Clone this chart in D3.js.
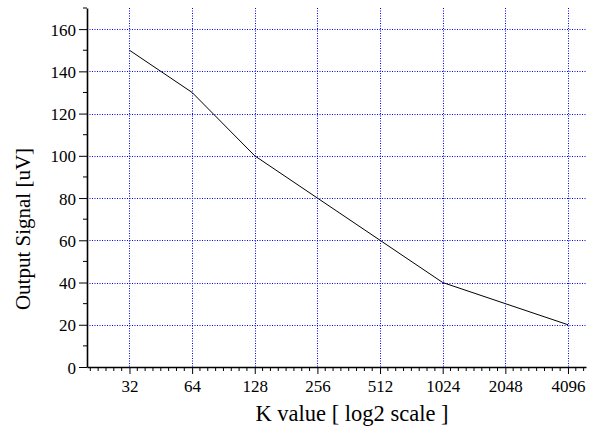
<!DOCTYPE html>
<html>
<head>
<meta charset="utf-8">
<script src="https://cdn.jsdelivr.net/npm/d3@7"></script>
<style>
  body { margin: 0; background: #fff; }
  text { font-family: "Liberation Serif", "Times New Roman", serif; fill: #000; }
  .grid line { stroke: #0000ff; stroke-width: 1; stroke-dasharray: 1,1.5; }
</style>
</head>
<body>
<script>
var kValues = [32, 64, 128, 256, 512, 1024, 2048, 4096];
var signal = [150, 130, 100, 80, 60, 40, 30, 20];
var xTicks = [32, 64, 128, 256, 512, 1024, 2048, 4096];
var yTicks = [0, 20, 40, 60, 80, 100, 120, 140, 160];

var WIDTH = 594;
var HEIGHT = 429;
var LEFT = 87, RIGHT = 586, TOP = 8, BOTTOM = 367;

var svg = d3.select("body")
            .append("svg")
            .attr("width", WIDTH)
            .attr("height", HEIGHT);

var x = d3.scaleLog().base(2).domain([20, 5000]).range([LEFT, RIGHT]);
var y = d3.scaleLinear().domain([0, 170]).range([BOTTOM, TOP]);

// minor ticks: 8 steps per octave on x, one between majors on y
var xMinor = [];
for (var e = 4; e <= 12; e++) {
    for (var k = 1; k < 8; k++) {
        var v = Math.pow(2, e + k / 8);
        if (v >= 20 && v <= 5000) xMinor.push(v);
    }
}
var yMinor = yTicks.map(t => t + 10);

// grid
var grid = svg.append("g").classed("grid", true);
grid.selectAll("line.v")
    .data(xTicks)
    .enter()
    .append("line")
    .classed("v", true)
    .attr("x1", d => Math.round(x(d)) + 0.5)
    .attr("x2", d => Math.round(x(d)) + 0.5)
    .attr("y1", TOP)
    .attr("y2", BOTTOM);
grid.selectAll("line.h")
    .data(yTicks.filter(d => d > 0))
    .enter()
    .append("line")
    .classed("h", true)
    .attr("x1", LEFT)
    .attr("x2", RIGHT)
    .attr("y1", d => Math.round(y(d)) + 0.5)
    .attr("y2", d => Math.round(y(d)) + 0.5);

// data line
var line = d3.line()
             .x((d, i) => x(kValues[i]))
             .y(d => y(d));
svg.append("path")
   .datum(signal)
   .attr("d", line)
   .attr("fill", "none")
   .attr("stroke", "#000")
   .attr("stroke-width", 1);

// x axis (labels drawn by hand so the serif font sticks)
var xAxis = svg.append("g")
               .attr("transform", "translate(0," + BOTTOM + ")")
               .call(d3.axisBottom(x).tickValues(xTicks).tickFormat(() => "")
                       .tickSizeInner(7).tickSizeOuter(0));
xAxis.selectAll(".tick text").remove();
xAxis.selectAll(".tick")
     .append("text")
     .attr("class", "lbl")
     .attr("y", 25)
     .attr("text-anchor", "middle")
     .text(d => d3.format("d")(d));
xAxis.append("g")
     .selectAll("line")
     .data(xMinor)
     .enter()
     .append("line")
     .attr("x1", d => x(d)).attr("x2", d => x(d))
     .attr("y1", 0).attr("y2", 4)
     .attr("stroke", "#000");

// y axis
var yAxis = svg.append("g")
               .attr("transform", "translate(" + LEFT + ",0)")
               .call(d3.axisLeft(y).tickValues(yTicks).tickFormat(() => "")
                       .tickSizeInner(8).tickSizeOuter(0));
yAxis.selectAll(".tick text").remove();
yAxis.selectAll(".tick")
     .append("text")
     .attr("class", "lbl")
     .attr("x", -11)
     .attr("y", 6)
     .attr("text-anchor", "end")
     .text(d => d);
yAxis.append("g")
     .selectAll("line")
     .data(yMinor)
     .enter()
     .append("line")
     .attr("y1", d => y(d)).attr("y2", d => y(d))
     .attr("x1", 0).attr("x2", -4)
     .attr("stroke", "#000");

svg.selectAll(".lbl")
   .style("font-family", "'Liberation Serif', 'Times New Roman', serif")
   .style("font-size", "17px")
   .style("fill", "#000");
svg.selectAll(".domain").attr("stroke", "#000").attr("stroke-width", 1.6);
svg.selectAll(".tick line").attr("stroke", "#000");

// titles
svg.append("text")
   .attr("x", 352)
   .attr("y", 421)
   .attr("text-anchor", "middle")
   .style("font-size", "22.5px")
   .text("K value [ log2 scale ]");

svg.append("text")
   .attr("transform", "translate(30,229) rotate(-90)")
   .attr("text-anchor", "middle")
   .style("font-size", "21px")
   .text("Output Signal [uV]");
</script>
</body>
</html>
